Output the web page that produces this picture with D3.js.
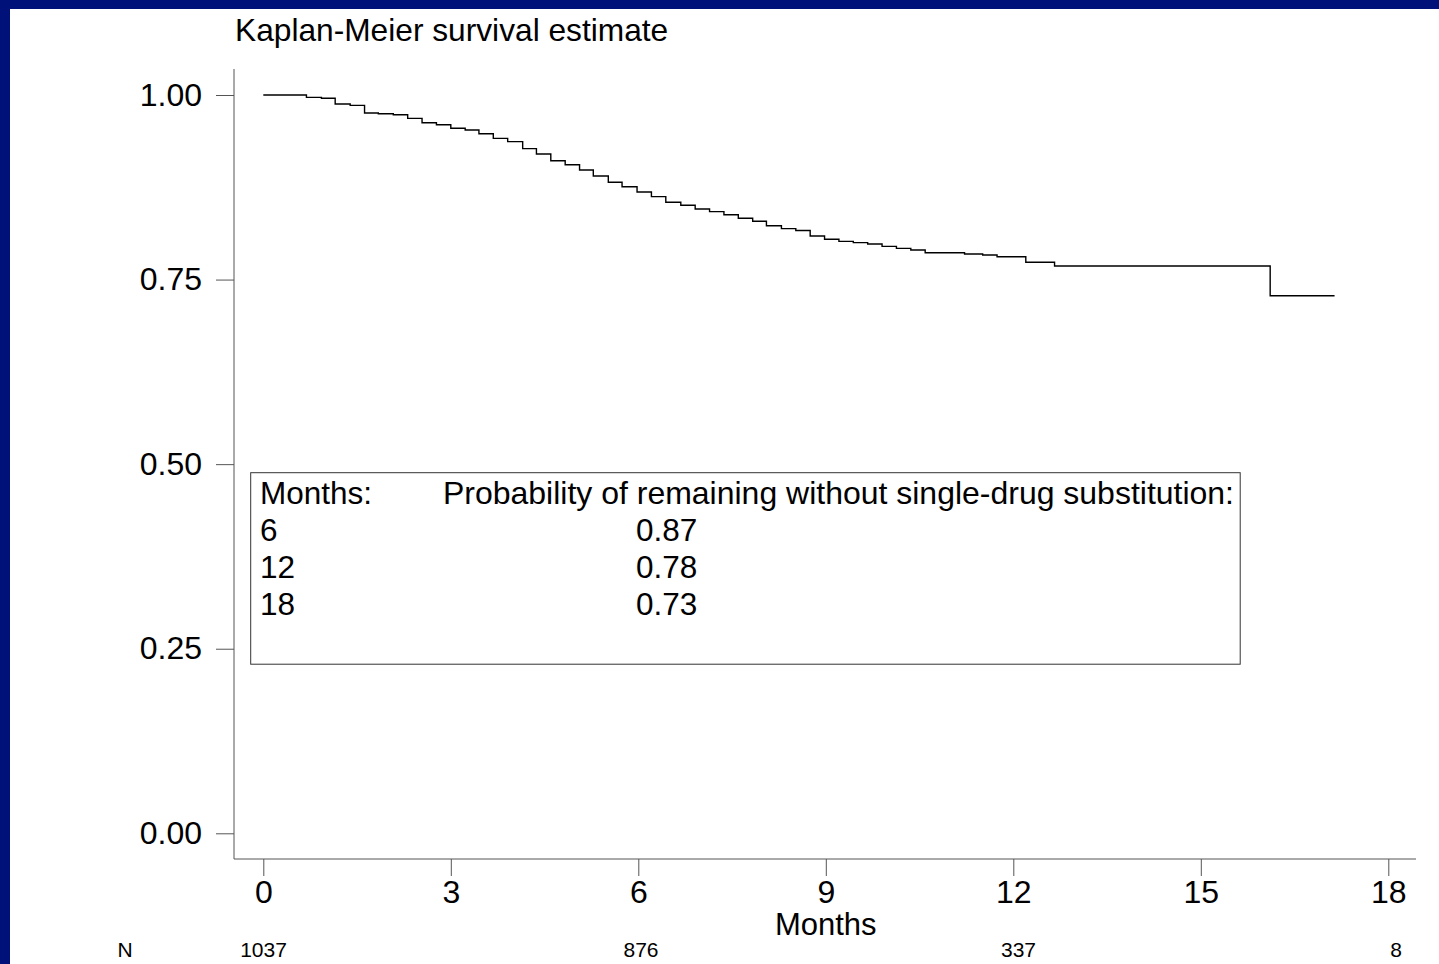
<!DOCTYPE html>
<html>
<head>
<meta charset="utf-8">
<script src="https://cdn.jsdelivr.net/npm/d3@7"></script>
<style>
  body { margin: 0; background: #fff; }
  text { font-family: "Liberation Sans", Arial, sans-serif; fill: #000; }
</style>
</head>
<body>
<svg id="km"></svg>
<script>
// step times (months) and survival estimate after each step
const stepMonths = [0, 0.69, 0.93, 1.15, 1.39, 1.62, 1.84, 2.08, 2.31, 2.54, 2.77, 3.00,
  3.23, 3.45, 3.68, 3.91, 4.15, 4.37, 4.60, 4.83, 5.06, 5.28, 5.52, 5.74,
  5.98, 6.21, 6.44, 6.68, 6.91, 7.14, 7.37, 7.60, 7.83, 8.05, 8.29, 8.52,
  8.75, 8.98, 9.21, 9.44, 9.67, 9.90, 10.13, 10.36, 10.59, 11.22, 11.51, 11.74,
  12.20, 12.66, 16.11];
const survival = [1.000, 0.9968, 0.9955, 0.9878, 0.9860, 0.9756, 0.9747, 0.9733, 0.9684, 0.9625, 0.9598, 0.9549,
  0.9526, 0.9476, 0.9413, 0.9368, 0.9273, 0.9201, 0.9110, 0.9056, 0.8984, 0.8903, 0.8818, 0.8758,
  0.8686, 0.8623, 0.8547, 0.8506, 0.8456, 0.8420, 0.8379, 0.8330, 0.8290, 0.8230, 0.8190, 0.8165,
  0.8090, 0.8046, 0.8018, 0.8000, 0.7982, 0.7950, 0.7923, 0.7900, 0.7864, 0.7846, 0.7833, 0.7810,
  0.7734, 0.7684, 0.7280];
const lastFollowUp = 17.14;

const xTicks = [0, 3, 6, 9, 12, 15, 18];
const yTicks = [0, 0.25, 0.5, 0.75, 1];

const tableMonths = ["6", "12", "18"];
const tableProb = ["0.87", "0.78", "0.73"];

const riskMonths = [0, 6, 12, 18];
const riskN = [1037, 876, 337, 8];

const W = 1439, H = 964;
const svg = d3.select("#km").attr("width", W).attr("height", H);

svg.append("rect").attr("width", W).attr("height", H).attr("fill", "#fff");
// navy frame (top and left only)
svg.append("rect").attr("x", 0).attr("y", 0).attr("width", W).attr("height", 9).attr("fill", "#00127a");
svg.append("rect").attr("x", 0).attr("y", 0).attr("width", 10).attr("height", H).attr("fill", "#00127a");

const x = d3.scaleLinear([0, 18], [263.3, 1388.3]);
const y = d3.scaleLinear([0, 1], [833.3, 95]);
const nScale = d3.scaleLinear([0, 18], [263.5, 1396]);

const AXIS = "#555";

// y axis
const gy = svg.append("g")
  .attr("transform", "translate(234,0)")
  .call(d3.axisLeft(y).tickValues(yTicks).tickFormat(d3.format(".2f")).tickSize(18).tickPadding(14));
gy.select(".domain").remove();
gy.selectAll("line").attr("stroke", AXIS);
gy.selectAll("text").attr("font-size", 32).attr("font-family", null);
svg.append("line").attr("x1", 234).attr("x2", 234).attr("y1", 69).attr("y2", 859)
  .attr("stroke", AXIS);

// x axis
const gx = svg.append("g")
  .attr("transform", "translate(0,859)")
  .call(d3.axisBottom(x).tickValues(xTicks).tickSize(17).tickPadding(4));
gx.select(".domain").remove();
gx.selectAll("line").attr("stroke", AXIS);
gx.selectAll("text").attr("font-size", 32).attr("font-family", null);
svg.append("line").attr("x1", 234).attr("x2", 1416).attr("y1", 859).attr("y2", 859)
  .attr("stroke", AXIS);

svg.append("text")
  .attr("x", (x(0) + x(18)) / 2).attr("y", 935)
  .attr("text-anchor", "middle").attr("font-size", 31)
  .text("Months");

// title
svg.append("text").attr("x", 235).attr("y", 41).attr("font-size", 31.7)
  .text("Kaplan-Meier survival estimate");

// KM curve
const pts = stepMonths.map((t, i) => [t, survival[i]]);
pts.push([lastFollowUp, survival[survival.length - 1]]);
svg.append("path")
  .datum(pts)
  .attr("fill", "none")
  .attr("stroke", "#000")
  .attr("stroke-width", 1.4)
  .attr("d", d3.line().x(d => x(d[0])).y(d => y(d[1])).curve(d3.curveStepAfter));

// summary box
svg.append("rect")
  .attr("x", 250.7).attr("y", 472.7).attr("width", 989.5).attr("height", 191.5)
  .attr("fill", "none").attr("stroke", "#333").attr("stroke-width", 1);

const box = svg.append("g").attr("font-size", 31.5);
box.append("text").attr("x", 260).attr("y", 503.5).attr("font-size", 31.5).text("Months:");
box.append("text").attr("x", 443).attr("y", 503.5).attr("font-size", 31.5)
  .attr("textLength", 791).attr("lengthAdjust", "spacingAndGlyphs")
  .text("Probability of remaining without single-drug substitution:");
tableMonths.forEach((m, i) => {
  box.append("text").attr("x", 260).attr("y", 541 + i * 37.2).attr("font-size", 31.5).text(m);
  box.append("text").attr("x", 636).attr("y", 541 + i * 37.2).attr("font-size", 31.5).text(tableProb[i]);
});

// number at risk
svg.append("text").attr("x", 125).attr("y", 957).attr("text-anchor", "middle")
  .attr("font-size", 21).text("N");
svg.selectAll(".risk")
  .data(riskN)
  .enter()
  .append("text")
  .attr("class", "risk")
  .attr("x", (d, i) => nScale(riskMonths[i]))
  .attr("y", 957)
  .attr("text-anchor", "middle")
  .attr("font-size", 21)
  .text(d => d);
</script>
</body>
</html>
